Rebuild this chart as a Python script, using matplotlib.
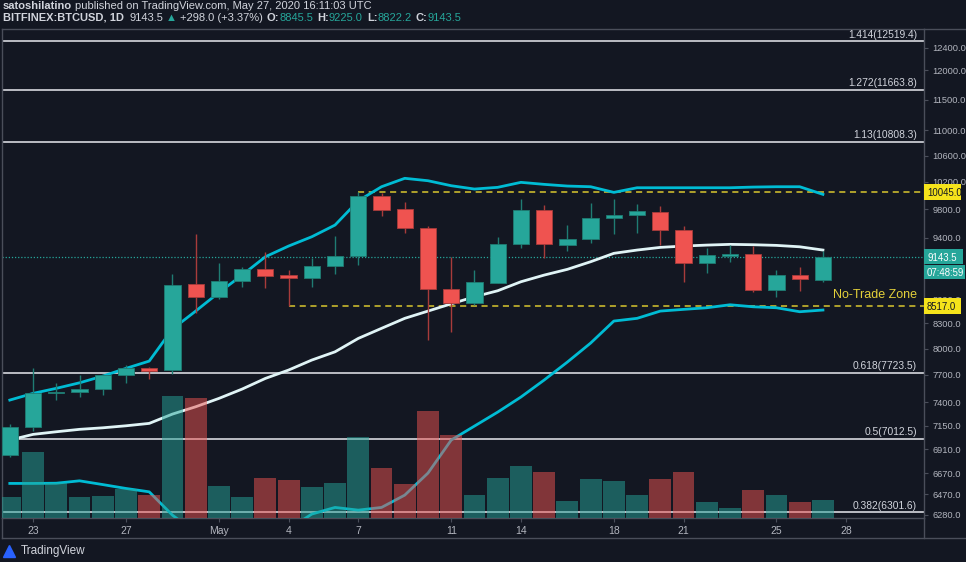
import numpy as np
import matplotlib.pyplot as plt
import matplotlib.transforms as mtransforms
from matplotlib.ticker import FixedLocator, NullLocator, FuncFormatter
from matplotlib.lines import Line2D
from matplotlib.patches import Rectangle

# BITFINEX:BTCUSD daily, 22 Apr - 27 May 2020
opens = [6850, 7132, 7498, 7509, 7539, 7697, 7780, 7754, 8786, 8628,
         8824, 8984, 8902, 8870, 9023, 9151, 9988, 9800, 9541, 8726,
         8553, 8806, 9313, 9790, 9308, 9385, 9673, 9719, 9766, 9505,
         9059, 9155, 9182, 8713, 8902, 8845.5]
highs = [7167, 7780, 7611, 7697, 7710, 7807, 7784, 8918, 9450, 9067,
         9006, 9205, 8970, 9133, 9426, 10045, 10032, 9901, 9565, 9146,
         8970, 9413, 9949, 9862, 9579, 9887, 9949, 9881, 9848, 9565,
         9267, 9303, 9290, 8970, 9014, 9225]
lows = [6827, 7094, 7422, 7451, 7476, 7611, 7656, 7705, 8422, 8600,
        8755, 8742, 8517, 8755, 8915, 9032, 9710, 9463, 8100, 8199,
        8524, 8798, 9267, 9133, 9227, 9335, 9450, 9463, 9303, 8819,
        8935, 9072, 8691, 8621, 8704, 8822.2]
closes = [7138, 7501, 7512, 7539, 7697, 7776, 7746, 8777, 8628, 8828,
          8984, 8896, 8867, 9019, 9155, 9988, 9795, 9541, 8726, 8553,
          8811, 9313, 9790, 9313, 9389, 9673, 9719, 9772, 9505, 9063,
          9165, 9182, 8713, 8902, 8850, 9143.5]
volume = [20.7, 66.3, 35.3, 21.3, 21.7, 28.7, 23.0, 122.3, 120.3, 32.0,
          21.0, 39.7, 38.0, 31.3, 35.3, 80.7, 49.7, 33.7, 107.0, 83.0,
          23.0, 40.0, 52.0, 46.0, 17.0, 39.3, 37.3, 22.7, 39.0, 46.0,
          16.0, 10.3, 27.7, 22.7, 15.7, 18.3]

# bollinger bands
bb_upper = [7422, 7495, 7550, 7611, 7686, 7773, 7856, 8231, 8450, 8681,
            8905, 9146, 9290, 9417, 9579, 9924, 10129, 10254, 10218, 10144,
            10095, 10120, 10194, 10164, 10139, 10129, 10046, 10114, 10114, 10114,
            10114, 10114, 10124, 10129, 10129, 10017]
bb_mid = [7002, 7060, 7087, 7112, 7128, 7149, 7174, 7272, 7350, 7440,
          7542, 7660, 7754, 7868, 7963, 8120, 8240, 8361, 8450, 8540,
          8628, 8704, 8819, 8905, 8980, 9080, 9192, 9236, 9272, 9290,
          9303, 9313, 9308, 9299, 9280, 9236]
bb_lower = [6573, 6573, 6575, 6598, 6562, 6525, 6493, 6276, 6120, 6030,
            5980, 6000, 6150, 6286, 6347, 6322, 6347, 6462, 6673, 7002,
            7146, 7293, 7455, 7642, 7845, 8065, 8328, 8361, 8450, 8471,
            8491, 8528, 8503, 8491, 8442, 8463]

fib_ratios = ['1.414', '1.272', '1.13', '0.618', '0.5', '0.382']
fib_prices = [12519.4, 11663.8, 10808.3, 7723.5, 7012.5, 6301.6]

zone_top = 10045.0
zone_bottom = 8517.0
zone_top_start = 15     # 7 May
zone_bottom_start = 12  # 4 May
last_price = 9143.5
countdown = '07:48:59'

price_ticks = [12400, 12000, 11500, 11000, 10600, 10200, 9800, 9400,
               8600, 8300, 8000, 7700, 7400, 7150, 6910, 6670, 6470, 6280]
date_ticks = [1, 5, 9, 12, 15, 19, 22, 26, 29, 33, 36]
date_labels = ['23', '27', 'May', '4', '7', '11', '14', '18', '21', '25', '28']

bg = '#131722'
up_c = '#26a69a'
dn_c = '#ef5350'
up_wick = '#1f7c73'
dn_wick = '#a83b3b'
txt_c = '#d1d4dc'
axis_c = '#b2b5be'
line_c = '#4a4e5a'
yel = '#d9c72e'
sans = ['Liberation Sans', 'DejaVu Sans']
plt.rcParams['font.family'] = sans

W, H = 966, 562
fig = plt.figure(figsize=(W / 100, H / 100), dpi=100, facecolor=bg)

ax = fig.add_axes([2 / W, 44 / H, 922 / W, 489 / H])
ax.set_facecolor(bg)
x = np.arange(len(opens))
o = np.array(opens)
c = np.array(closes)
rising = c >= o
cols = [up_c if r else dn_c for r in rising]
wick_cols = [up_wick if r else dn_wick for r in rising]

ax.set_yscale('log')
ax.set_xlim(-0.336, 39.35)
ax.set_ylim(6250, 12747)

blend = mtransforms.blended_transform_factory(ax.transAxes, ax.transData)

# fib levels
for r, p in zip(fib_ratios, fib_prices):
    ax.axhline(p, color='#c8cad0', lw=1.3, zorder=1)
    ax.text(0.9925, p * 1.0025, f'{r}({p})', transform=blend, ha='right', va='bottom',
            fontsize=7.4, color=txt_c, zorder=6)

# last price dotted line
ax.axhline(last_price, color=up_c, lw=0.9, ls=(0, (1, 1.5)), zorder=1)

# no-trade zone
ax.hlines([zone_top], zone_top_start, 39.35, colors=yel, lw=1.1, ls=(0, (4, 3)), zorder=2)
ax.hlines([zone_bottom], zone_bottom_start, 39.35, colors=yel, lw=1.1, ls=(0, (4, 3)), zorder=2)
ax.text(0.9925, 8645, 'No-Trade Zone', transform=blend, ha='right', va='center',
        fontsize=9, color='#e3d03a', zorder=6)

# bands
ax.plot(x, bb_upper, color='#00bcd4', lw=2, zorder=3, solid_joinstyle='round')
ax.plot(x, bb_lower, color='#00bcd4', lw=2, zorder=3, solid_joinstyle='round')
ax.plot(x, bb_mid, color='#e0f4f6', lw=2, zorder=3, solid_joinstyle='round')

# candles
ax.vlines(x, lows, highs, colors=wick_cols, lw=1, zorder=4)
body_lo = np.minimum(o, c)
body_h = np.maximum(np.abs(c - o), 4)
ax.bar(x, body_h, bottom=body_lo, width=0.7, color=cols, edgecolor=wick_cols, lw=0.6, zorder=5)

# volume overlay (twinx moves ax ticks to the left, so set ticks afterwards)
ax2 = ax.twinx()
ax2.bar(x, volume, width=0.94, color=cols, alpha=0.5, lw=0)
ax2.set_ylim(0, max(volume) * 489 / 122)
ax2.set_yticks([])
for s in ax2.spines.values():
    s.set_visible(False)

# axis styling
ax.yaxis.tick_right()
ax.yaxis.set_major_locator(FixedLocator(price_ticks))
ax.yaxis.set_minor_locator(NullLocator())
ax.yaxis.set_major_formatter(FuncFormatter(lambda v, pos: f'{v:.1f}'))
ax.set_xticks(date_ticks, date_labels)
ax.tick_params(axis='y', colors=axis_c, labelsize=6.7, length=3, pad=3, width=0.8)
ax.tick_params(axis='x', colors=axis_c, labelsize=7.5, length=3, pad=2.5, width=0.8)
ax.tick_params(axis='both', which='both', color=line_c)
for s in ax.spines.values():
    s.set_color(line_c)
    s.set_linewidth(1)

# right-axis price tags, drawn in pixel coordinates at the price's height
ident = mtransforms.IdentityTransform()

def tag(price, text, fc, tc, w, h, dy=0):
    yc = ax.transData.transform((0, price))[1] + dy
    fig.add_artist(Rectangle((924, yc - h / 2), w, h, transform=ident,
                             fc=fc, ec='none', zorder=20))
    fig.text(927, yc, text, transform=ident, ha='left', va='center_baseline',
             fontsize=6.9, color=tc, zorder=21)

tag(zone_top, f'{zone_top:.1f}', '#f5e31b', '#131722', 37, 16)
tag(zone_bottom, f'{zone_bottom:.1f}', '#f5e31b', '#131722', 37, 16)
tag(last_price, f'{last_price:.1f}', up_c, 'white', 39, 15)
tag(last_price, countdown, up_c, 'white', 41, 14, dy=-15)

# outer frame lines
fig.add_artist(Line2D([2 / W, 1], [1 - 538 / H] * 2, color=line_c, lw=1))
fig.add_artist(Line2D([924 / W, 1], [1 - 29 / H] * 2, color=line_c, lw=1))
fig.add_artist(Line2D([924 / W] * 2, [1 - 538 / H, 1 - 518 / H], color=line_c, lw=1))
fig.add_artist(Line2D([2 / W] * 2, [1 - 538 / H, 1 - 518 / H], color=line_c, lw=1))

# header
rend = fig.canvas.get_renderer()

def chain(ypx, parts, x0=3):
    xp = x0
    for s, col, wt, gap in parts:
        t = fig.text(xp / W, 1 - ypx / H, s, color=col, fontsize=8, fontweight=wt,
                     ha='left', va='center')
        xp = t.get_window_extent(renderer=rend).x1 + gap

chain(6, [('satoshilatino', txt_c, 'bold', 3),
          ('published on TradingView.com, May 27, 2020 16:11:03 UTC', txt_c, 'normal', 0)])
chain(18, [('BITFINEX:BTCUSD, 1D', txt_c, 'bold', 5),
           (f'{last_price}', txt_c, 'normal', 3),
           ('▲', up_c, 'normal', 3),
           ('+298.0 (+3.37%)', txt_c, 'normal', 4),
           ('O:', txt_c, 'bold', 0), ('8845.5', up_c, 'normal', 4),
           ('H:', txt_c, 'bold', 0), ('9225.0', up_c, 'normal', 4),
           ('L:', txt_c, 'bold', 0), ('8822.2', up_c, 'normal', 4),
           ('C:', txt_c, 'bold', 0), ('9143.5', up_c, 'normal', 0)])

# footer logo
fig.add_artist(Line2D([9 / W], [1 - 551 / H], marker='^', color='#2962ff', ms=9, ls='none'))
fig.text(21 / W, 1 - 551 / H, 'TradingView', color=txt_c, fontsize=8.5,
         ha='left', va='center')

fig.savefig('out.png', dpi=100, facecolor=bg)
